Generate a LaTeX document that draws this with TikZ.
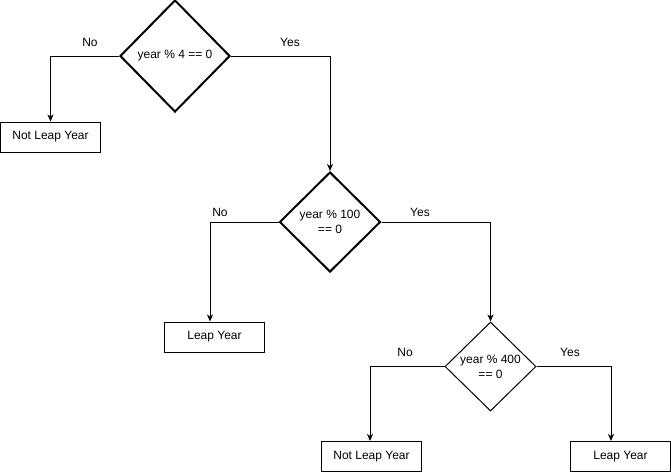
\documentclass[tikz,border=0pt]{standalone}
\usepackage{fontspec}
\setmainfont{Liberation Sans}
\usetikzlibrary{shapes.geometric,arrows.meta}
\begin{document}
\begin{tikzpicture}[x=1pt,y=-1pt,
  every node/.style={font=\fontsize{12}{15}\selectfont},
  decision/.style={draw, shape=diamond, inner sep=0pt, align=center},
  outcome/.style={draw, line width=1pt, minimum width=100pt, minimum height=30pt, inner sep=0pt},
  flow/.style={line width=1pt, -{Stealth[length=7pt,width=6pt,inset=2pt]}},
  lbl/.style={inner sep=0pt}]
\useasboundingbox (0,0) rectangle (671,472);

% decisions
\node[decision, line width=2pt, minimum width=110pt, minimum height=112pt] (d1) at (175,56) {year \% 4 == 0};
\node[decision, line width=2pt, minimum width=101pt, minimum height=100pt] (d2) at (330,222) {year \% 100\\== 0};
\node[decision, line width=1pt, minimum width=91pt, minimum height=89pt] (d3) at (490.5,366.5) {year \% 400\\== 0};

% outcomes
\node[outcome] (b1) at (50.5,137) {Not Leap Year};
\node[outcome] (b2) at (214.5,337) {Leap Year};
\node[outcome] (b3) at (371.5,456.5) {Not Leap Year};
\node[outcome] (b4) at (620.5,456.5) {Leap Year};

% connectors
\draw[flow] (d1.west) -| (b1.north);
\draw[flow] (d1.east) -| (d2.north);
\draw[flow] (d2.west) -| ([xshift=-4.5pt]b2.north);
\draw[flow] (d2.east) -| (d3.north);
\draw[flow] (d3.west) -| ([xshift=-1.5pt]b3.north);
\draw[flow] (d3.east) -| ([xshift=-9.5pt]b4.north);

% branch labels
\node[lbl] (n1) at (90,42) {No};
\node[lbl] (y1) at (290,42) {Yes};
\node[lbl] (n2) at (220,212) {No};
\node[lbl] (y2) at (420,212) {Yes};
\node[lbl] (n3) at (405,352) {No};
\node[lbl] (y3) at (570,352) {Yes};
\end{tikzpicture}
\end{document}
